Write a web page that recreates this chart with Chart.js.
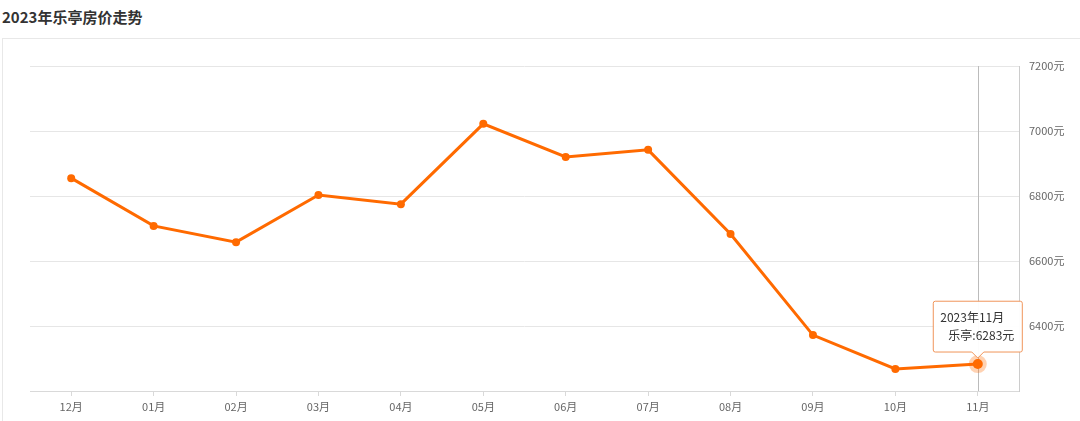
<!DOCTYPE html>
<html>
<head>
<meta charset="utf-8">
<title>2023年乐亭房价走势</title>
<script src="https://cdn.jsdelivr.net/npm/chart.js@4/dist/chart.umd.min.js"></script>
<style>
  html, body { margin: 0; padding: 0; background: #fff; width: 1080px; height: 421px; overflow: hidden; }
  .title { position: absolute; left: 2px; top: 6px; font: bold 15px "Noto Sans CJK SC", sans-serif; color: #333; }
  .panel { position: absolute; left: 2px; top: 38px; width: 1100px; height: 420px; border: 1px solid #e8e8e8; }
  #chart { position: absolute; left: 0; top: 0; }
</style>
</head>
<body>
<div class="title">2023年乐亭房价走势</div>
<div class="panel"></div>
<canvas id="chart" width="1080" height="421"></canvas>
<script>
    "use strict";

    var months = ["12月", "01月", "02月", "03月", "04月", "05月", "06月", "07月", "08月", "09月", "10月", "11月"];
    var fullMonths = ["2022年12月", "2023年01月", "2023年02月", "2023年03月", "2023年04月", "2023年05月",
        "2023年06月", "2023年07月", "2023年08月", "2023年09月", "2023年10月", "2023年11月"];
    var prices = [6855, 6708, 6658, 6803, 6775, 7022, 6920, 6942, 6683, 6372, 6268, 6283];
    var seriesName = "乐亭";
    var yMin = 6200, yMax = 7200, yStep = 200;
    var activeIndex = 11;

    var orange = "#ff6a00";
    var font = "'Noto Sans CJK SC', sans-serif";

    // vertical pointer line through the highlighted month
    var pointerLine = {
        id: "pointerLine",
        beforeDatasetsDraw: function (chart) {
            var act = chart.getActiveElements();
            if (!act.length) return;
            var x = Math.round(act[0].element.x) + 0.5;
            var ctx = chart.ctx;
            ctx.save();
            ctx.strokeStyle = "#bbbbbb";
            ctx.lineWidth = 1;
            ctx.beginPath();
            ctx.moveTo(x, chart.chartArea.top);
            ctx.lineTo(x, chart.chartArea.bottom);
            ctx.stroke();
            ctx.restore();
        }
    };

    var ctx = document.getElementById("chart").getContext("2d");
    var myChart = new Chart(ctx, {
        type: "line",
        data: {
            labels: months,
            datasets: [{
                label: seriesName,
                data: prices,
                borderColor: orange,
                backgroundColor: orange,
                borderWidth: 3,
                pointRadius: 4,
                pointBackgroundColor: orange,
                pointBorderWidth: 0,
                pointHoverRadius: 5,
                pointHoverBackgroundColor: orange,
                pointHoverBorderColor: "rgba(255, 106, 0, 0.3)",
                pointHoverBorderWidth: 8,
                tension: 0
            }]
        },
        options: {
            responsive: false,
            animation: false,
            events: [],
            devicePixelRatio: 1,
            layout: { padding: { left: 30, top: 66, right: 0, bottom: 0 } },
            plugins: {
                legend: { display: false },
                tooltip: {
                    enabled: true,
                    backgroundColor: "rgba(255, 255, 255, 0.95)",
                    borderColor: "#f0955a",
                    borderWidth: 1,
                    cornerRadius: 2,
                    titleColor: "#333",
                    bodyColor: "#333",
                    titleFont: { family: font, size: 12, weight: "normal" },
                    bodyFont: { family: font, size: 12 },
                    titleAlign: "left",
                    bodyAlign: "left",
                    titleMarginBottom: 4,
                    padding: { left: 7, right: 8, top: 9, bottom: 9 },
                    displayColors: false,
                    caretSize: 6,
                    caretPadding: 6,
                    xAlign: "center",
                    yAlign: "bottom",
                    callbacks: {
                        title: function (items) { return fullMonths[items[0].dataIndex]; },
                        label: function (item) { return "   " + seriesName + ":" + item.raw + "元"; }
                    }
                }
            },
            scales: {
                x: {
                    type: "category",
                    offset: true,
                    afterFit: function (scale) { scale.height = 30; },
                    grid: { drawOnChartArea: false, drawTicks: true, tickLength: 5, color: "#d9d9d9" },
                    border: { display: true, color: "#d9d9d9" },
                    ticks: { color: "#666", font: { family: font, size: 11 }, padding: 4, maxRotation: 0 }
                },
                y: {
                    position: "right",
                    min: yMin,
                    max: yMax,
                    afterFit: function (scale) { scale.width = 61; },
                    grid: { color: "#e6e6e6", drawTicks: false },
                    border: { display: true, color: "#cccccc" },
                    ticks: {
                        stepSize: yStep,
                        color: "#666",
                        padding: 10,
                        font: { family: font, size: 11 },
                        callback: function (v) { return v === yMin ? "" : v + "元"; }
                    }
                }
            }
        },
        plugins: [pointerLine]
    });

    var act = [{ datasetIndex: 0, index: activeIndex }];
    myChart.setActiveElements(act);
    var pt = myChart.getDatasetMeta(0).data[activeIndex];
    myChart.tooltip.setActiveElements(act, { x: pt.x, y: pt.y });
    myChart.update();
</script>
</body>
</html>
